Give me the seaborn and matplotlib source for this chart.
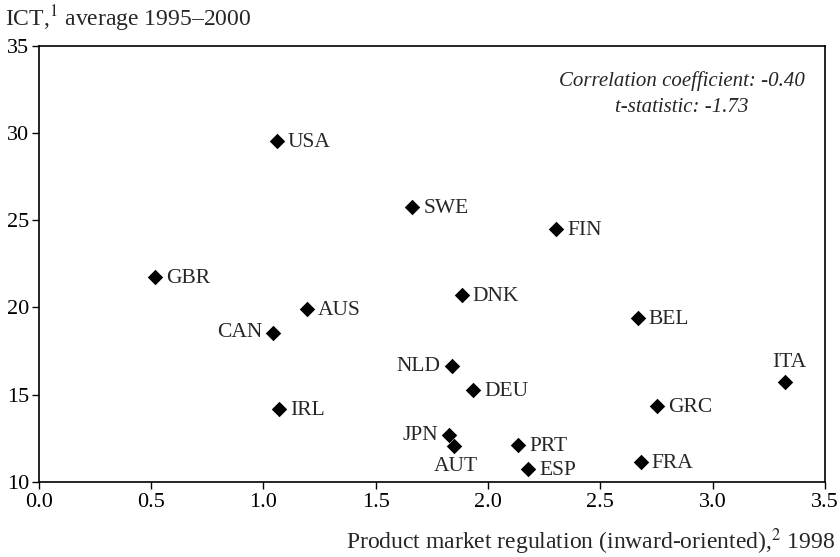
import matplotlib
matplotlib.use("Agg")
import matplotlib.pyplot as plt
import seaborn as sns
import pandas as pd

countries = ["USA", "SWE", "FIN", "GBR", "DNK", "AUS", "CAN", "BEL", "NLD", "ITA",
             "DEU", "GRC", "IRL", "JPN", "AUT", "PRT", "ESP", "FRA"]
pmr = [1.06, 1.663, 2.303, 0.518, 1.883, 1.193, 1.045, 2.667, 1.839, 3.323,
       1.935, 2.751, 1.071, 1.827, 1.849, 2.135, 2.18, 2.68]
ict = [29.55, 25.73, 24.49, 21.75, 20.7, 19.88, 18.54, 19.4, 16.63, 15.7,
       15.26, 14.36, 14.15, 12.68, 12.06, 12.1, 10.73, 11.15]
label_pos = {"CAN": "left", "NLD": "left", "JPN": "left", "AUT": "below", "ITA": "above"}

x_ticks = [0.0, 0.5, 1.0, 1.5, 2.0, 2.5, 3.0, 3.5]
y_ticks = [10, 15, 20, 25, 30, 35]

df = pd.DataFrame({"country": countries, "pmr": pmr, "ict": ict})

sns.set_theme(style="white")
plt.rcParams["font.family"] = ["Liberation Serif", "DejaVu Serif"]
plt.rcParams["mathtext.fontset"] = "stix"

fig = plt.figure(figsize=(8.4, 5.57), dpi=100)
ax = fig.add_axes([0.046, 0.135, 0.936, 0.783])

sns.scatterplot(data=df, x="pmr", y="ict", marker="D", s=62, color="black",
                edgecolor="black", linewidth=0, ax=ax, legend=False)

fs = 15.5
for c, xv, yv in zip(countries, pmr, ict):
    pos = label_pos.get(c, "right")
    if pos == "right":
        ax.annotate(c, (xv, yv), xytext=(8, -1), textcoords="offset points",
                    ha="left", va="center", fontsize=fs)
    elif pos == "left":
        ax.annotate(c, (xv, yv), xytext=(-8, 0), textcoords="offset points",
                    ha="right", va="center", fontsize=fs)
    elif pos == "below":
        ax.annotate(c, (xv, yv), xytext=(1, -14.5), textcoords="offset points",
                    ha="center", va="center", fontsize=fs)
    else:
        ax.annotate(c, (xv, yv), xytext=(3, 14), textcoords="offset points",
                    ha="center", va="center", fontsize=fs)

ax.set_xlim(0, 3.5)
ax.set_ylim(10, 35)
ax.set_xticks(x_ticks)
ax.set_xticklabels([f"{v:.1f}" for v in x_ticks])
ax.set_yticks(y_ticks)
ax.set_yticklabels([str(v) for v in y_ticks])
ax.tick_params(axis="both", which="both", direction="out", length=5, width=1,
               labelsize=16, color="black", labelcolor="black",
               bottom=True, left=True, top=False, right=False, pad=3)
ax.tick_params(axis="y", pad=2)
for sp in ax.spines.values():
    sp.set_visible(True)
    sp.set_color("black")
    sp.set_linewidth(1.2)

ax.set_xlabel("")
ax.set_ylabel("")

ax.text(0.818, 0.889, "Correlation coefficient: -0.40\nt-statistic: -1.73",
        transform=ax.transAxes, ha="center", va="center", style="italic",
        fontsize=15, linespacing=1.45)

fig.text(0.006, 0.967, r"ICT,$^{1}$ average 1995–2000", ha="left", va="center", fontsize=17)
fig.text(0.994, 0.028, r"Product market regulation (inward-oriented),$^{2}$ 1998",
         ha="right", va="center", fontsize=17)

fig.savefig("out.png", dpi=100, facecolor="white")
